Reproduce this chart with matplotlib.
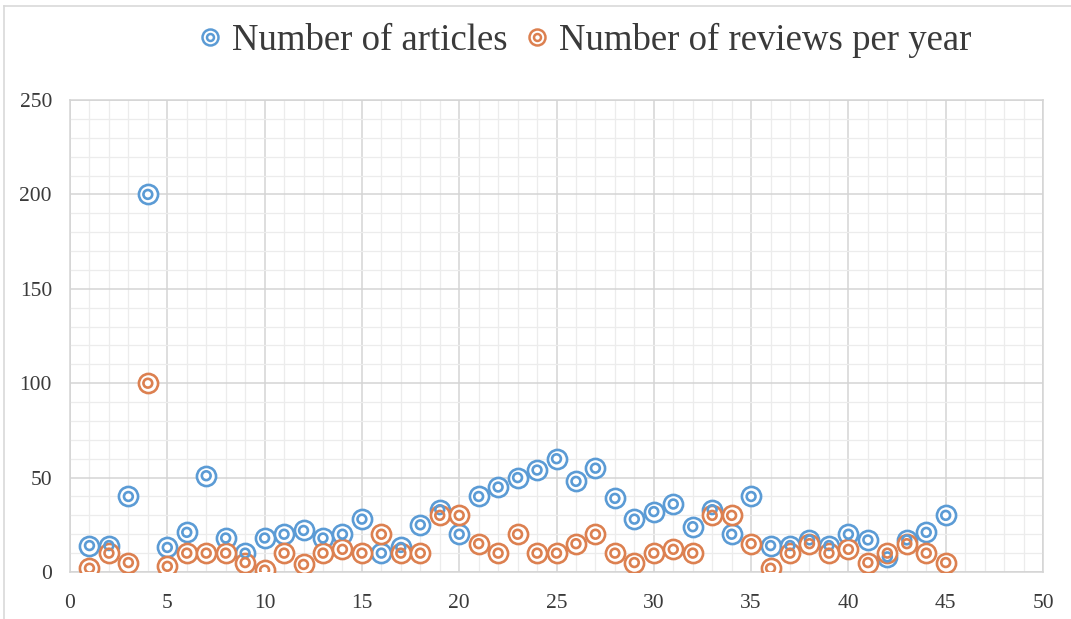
import numpy as np
import matplotlib as mpl
mpl.use('Agg')
import matplotlib.pyplot as plt
from matplotlib.lines import Line2D
from matplotlib.legend_handler import HandlerTuple

years = np.arange(1, 46)
articles = [14, 14, 40, 200, 13, 21, 51, 18, 10, 18,
            20, 22, 18, 20, 28, 10, 13, 25, 33, 20,
            40, 45, 50, 54, 60, 48, 55, 39, 28, 32,
            36, 24, 33, 20, 40, 14, 14, 17, 14, 20,
            17, 8, 17, 21, 30]
reviews = [2, 10, 5, 100, 3, 10, 10, 10, 5, 1,
           10, 4, 10, 12, 10, 20, 10, 10, 30, 30,
           15, 10, 20, 10, 10, 15, 20, 10, 5, 10,
           12, 10, 30, 30, 15, 2, 10, 15, 10, 12,
           5, 10, 15, 10, 5]
labels = ['Number of articles', 'Number of reviews per year']
colors = ['#5B9BD5', '#DC8050']

plt.rcParams['font.family'] = ['Liberation Serif', 'DejaVu Serif']
txtc = '#3A3A3A'

fig = plt.figure(figsize=(10.71, 6.19), dpi=100)
ax = fig.add_axes([70/1071, 1-572/619, 973/1071, 472/619])

handles = []
for vals, c in zip([articles, reviews], colors):
    # double ring marker: outer + inner circle
    ax.scatter(years, vals, s=190, facecolors='white', edgecolors=c,
               linewidths=1.9, zorder=3)
    ax.scatter(years, vals, s=40, facecolors='none', edgecolors=c,
               linewidths=1.9, zorder=4)
    h1 = Line2D([], [], marker='o', ls='', ms=11.5, mfc='white', mec=c, mew=1.8)
    h2 = Line2D([], [], marker='o', ls='', ms=5, mfc='none', mec=c, mew=1.8)
    handles.append((h1, h2))

ax.set_xlim(0, 50)
ax.set_ylim(0, 250)
ax.set_xticks(np.arange(0, 51, 5))
ax.set_yticks(np.arange(0, 251, 50))
ax.set_xticks(np.arange(0, 51, 1), minor=True)
ax.set_yticks(np.arange(0, 251, 10), minor=True)
ax.grid(which='major', color='#D4D4D4', lw=1.1, zorder=0)
ax.grid(which='minor', color='#ECECEC', lw=0.9, zorder=0)
ax.set_axisbelow(True)
for sp in ax.spines.values():
    sp.set_color('#D4D4D4')
    sp.set_linewidth(1.1)
ax.tick_params(which='both', length=0, labelsize=15.5, colors=txtc)
ax.tick_params(axis='x', pad=16)
ax.tick_params(axis='y', pad=13)

fig.legend(handles, labels, handler_map={tuple: HandlerTuple(ndivide=1)},
           loc='center', bbox_to_anchor=(585/1071, 1-40/619), ncol=2,
           frameon=False, fontsize=26.5, labelcolor=txtc, handlelength=0.6,
           handletextpad=0.3, columnspacing=0.5)

fig.add_artist(Line2D([4/1071, 4/1071], [0, 1-6/619], color='#D9D9D9', lw=1.2))
fig.add_artist(Line2D([4/1071, 1], [1-6/619, 1-6/619], color='#D9D9D9', lw=1.2))

fig.savefig('out.png', dpi=100)
plt.close()
